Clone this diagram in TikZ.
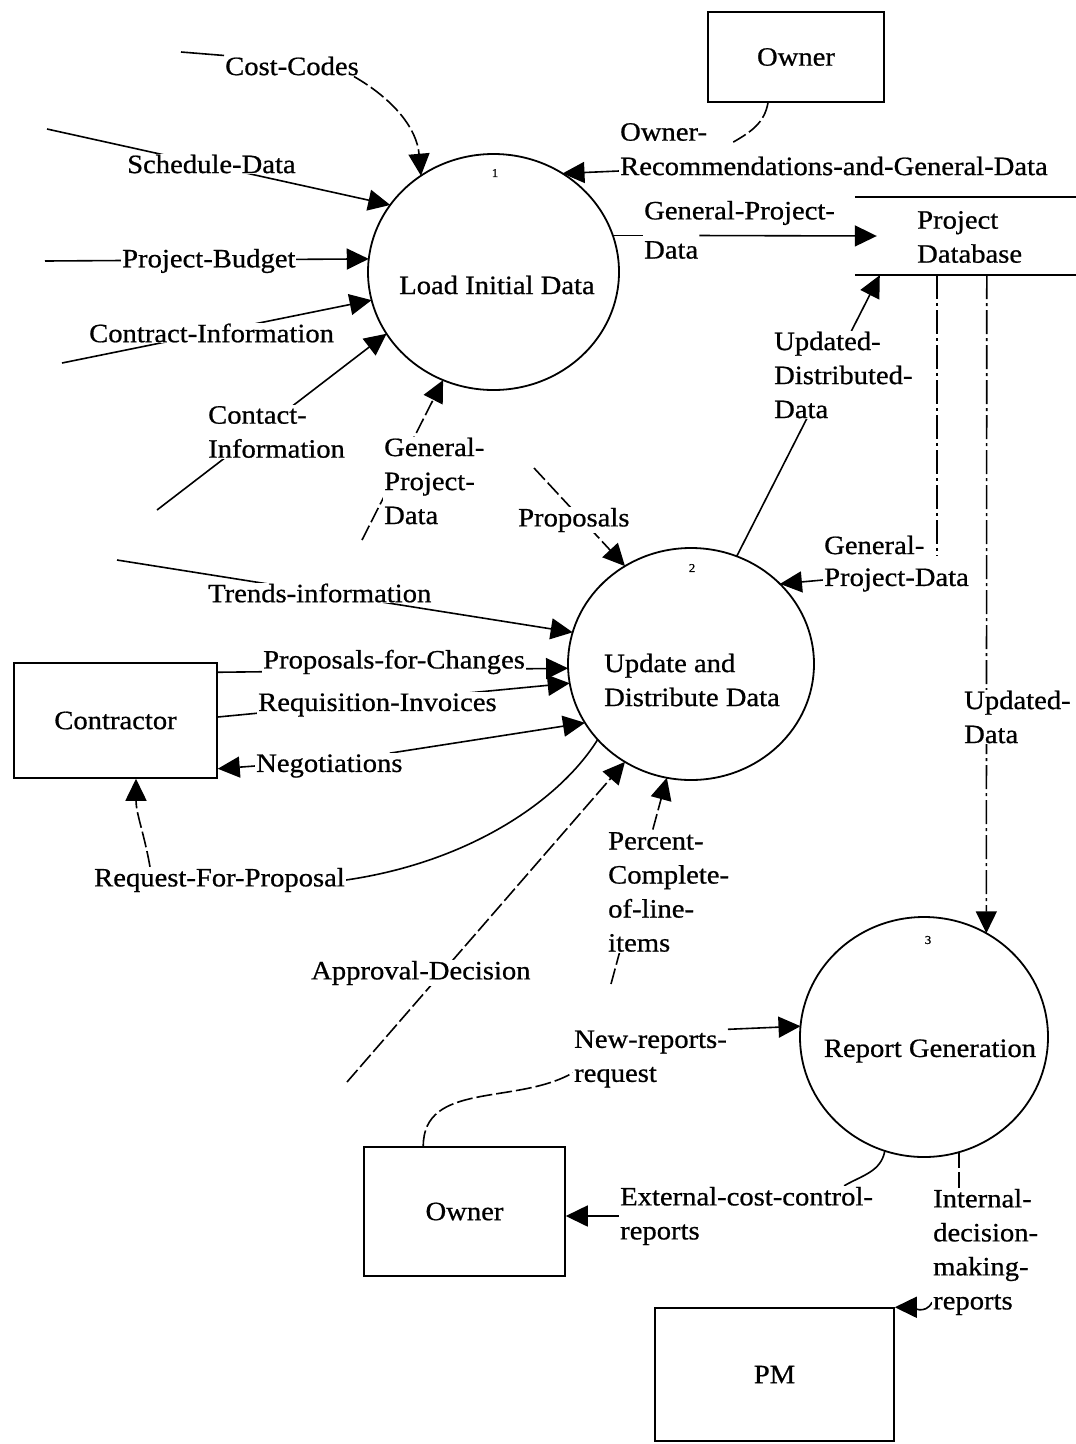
\documentclass[tikz,border=0pt]{standalone}
\usepackage{fontspec}
\setmainfont[FakeStretch=1.08,FakeBold=0.7]{Liberation Serif}
\usetikzlibrary{arrows.meta,shapes.geometric,backgrounds}
\begin{document}
\begin{tikzpicture}[x=1pt,y=-1pt,
  font=\fontsize{26.5}{34}\selectfont,
  lbl/.style={fill=white,inner sep=1pt,anchor=west,align=left},
  proc/.style={ellipse,draw,line width=1.8pt,inner sep=0pt,outer sep=0pt},
  ent/.style={rectangle,draw,line width=1.5pt,inner sep=0pt},
  num/.style={font=\fontsize{12}{14}\selectfont},
  flow/.style={line width=1.6pt},
  arr/.style={flow,-{Triangle[length=22pt,width=21pt]}},
  brk/.style={dash pattern=on 16pt off 4pt},
  dd/.style={dash pattern=on 24pt off 4pt on 3pt off 4pt}]
\useasboundingbox (0,0) rectangle (1076,1444);

% processes
\node[proc,minimum width=251pt,minimum height=236pt] (c1) at (493.5,272) {};
\node (t1) at (497,285) {Load Initial Data};
\node[num] (n1) at (495,173) {1};
\node[proc,minimum width=246pt,minimum height=232pt] (c2) at (691,664) {};
\node[anchor=west,align=left,inner sep=0pt] (t2) at (604,680) {Update and\\Distribute Data};
\node[num] (n2) at (692,568) {2};
\node[proc,minimum width=248pt,minimum height=240pt] (c3) at (924,1037) {};
\node (t3) at (930,1051) {Report Generation};
\node[num] (n3) at (928,940) {3};

% external entities
\node[ent,minimum width=176pt,minimum height=90pt] (ownerT) at (796,57) {Owner};
\node[ent,minimum width=203pt,minimum height=115pt] (contr) at (115.5,720.5) {Contractor};
\node[ent,minimum width=201pt,minimum height=129pt] (ownerB) at (464.5,1211.5) {Owner};
\node[ent,minimum width=239pt,minimum height=133pt] (pm) at (774.5,1374.5) {PM};

% data store
\node[minimum width=221pt,minimum height=78pt,inner sep=0pt] (db) at (965.5,236) {};
\node[anchor=west,align=left,inner sep=0pt] (dbt) at (917,237) {Project\\Database};
\draw[line width=1.5pt] (db.north west) -- (db.north east) (db.south west) -- (db.south east);
\coordinate (dbA) at ([xshift=82pt]db.south west);
\coordinate (dbB) at ([xshift=132pt]db.south west);

% labels
\node[lbl] (lcc) at (224,66) {Cost-Codes};
\node[lbl] (lsd) at (126,164) {Schedule-Data};
\node[lbl] (lpb) at (121,261) {Project-Budget};
\node[lbl] (lci) at (88,333) {Contract-Information};
\node[lbl] (lct) at (207,432) {Contact-\\Information};
\node[lbl] (lgp1) at (383,481) {General-\\Project-\\Data};
\node[lbl] (lpr) at (517,520) {Proposals};
\node[lbl] (ltr) at (207,593) {Trends-information};
\node[lbl] (lpfc) at (262,662) {Proposals-for-Changes};
\node[lbl] (lri) at (257,705) {Requisition-Invoices};
\node[lbl] (lneg) at (255,766) {Negotiations};
\node[lbl] (lrfp) at (93,880) {Request-For-Proposal};
\node[lbl] (lad) at (310,973) {Approval-Decision};
\node[lbl] (lpc) at (607,892) {Percent-\\Complete-\\of-line-\\items};
\node[lbl] (lorA) at (619,132) {Owner-};
\node[lbl] (lorB) at (619,166) {Recommendations-and-General-Data};
\node[lbl] (lgpA) at (643,213) {General-Project-};
\node[lbl] (lgpB) at (643,250) {Data};
\node[lbl] (lud) at (773,375) {Updated-\\Distributed-\\Data};
\node[lbl] (lgp2A) at (823,545) {General-};
\node[lbl] (lgp2B) at (823,580) {Project-Data};
\node[lbl] (lupd) at (963,717) {Updated-\\Data};
\node[lbl] (lnr) at (573,1059) {New-reports-\\request};
\node[lbl] (lext) at (619,1216) {External-cost-control-\\reports};
\node[lbl] (lint) at (932,1252) {Internal-\\decision-\\making-\\reports};

% free ends
\coordinate (fcc) at (181,52);
\coordinate (fsd) at (47,129);
\coordinate (fpb) at (45,261);
\coordinate (fci) at (62,363);
\coordinate (fct) at (157,510);
\coordinate (fgp) at (362,540);
\coordinate (fpr) at (534,468);
\coordinate (ftr) at (117,560);
\coordinate (fad) at (347,1082);
\coordinate (fpc) at (611,984);

\begin{pgfonlayer}{background}
\fill[white] (0,0) rectangle (1076,1444);
% into process 1
\draw[flow] (fcc) -- (lcc.north west);
\draw[arr,brk] ([xshift=-6pt]lcc.south east) to[out=-30,in=95] (c1.127);
\draw[arr] (fsd) -- (c1.147);
\draw[arr] (fpb) -- (c1.174);
\draw[arr] (fci) -- (c1.193);
\draw[arr] (fct) -- (c1.210);
\draw[arr,brk] (fgp) -- (c1.245);
\draw[flow,brk] ([xshift=-28pt]ownerT.south) to[out=-100,in=30] ([xshift=25pt]lorA.south east);
\draw[arr] ([yshift=-5pt]lorB.west) -- (c1.55);
\draw[flow] (c1.17) -- (lgpB.west |- c1.17);
\draw[arr] (lgpB.east |- c1.17) -- ([xshift=22pt]db.west);
% process 2
\draw[arr,brk] (fpr) -- (c2.124);
\draw[arr] (ftr) -- (c2.165);
\draw[arr] ([yshift=-10pt]contr.north east) -- (c2.182);
\draw[arr] ([yshift=3.5pt]contr.east) -- (c2.189);
\draw[arr] ([xshift=-14pt]lneg.north east) -- (c2.209);
\draw[arr] (lneg.west) -- ([yshift=10pt]contr.south east);
\draw[flow] (c2.219) .. controls (560,800) and (470,862) .. (lrfp.east);
\draw[arr,brk] ([xshift=57pt]lrfp.north west) to[out=100,in=-90] ([xshift=20.5pt]contr.south);
\draw[arr,brk] (fad) -- (c2.236);
\draw[arr,brk] (fpc) -- (c2.258);
\draw[arr] (c2.67) -- ([xshift=25pt]db.south west);
\draw[flow,dd] (dbA) -- (dbA |- lgp2A.south);
\draw[arr] (lgp2B.west) -- (c2.42);
% process 3
\draw[arr,dd] (dbB) -- (c3.59);
\draw[flow,brk] ([xshift=60pt]ownerB.north west) to[out=90,in=210] ([yshift=16pt]lnr.south west);
\draw[arr] (lnr.north east) -- (c3.175);
\draw[flow] (c3.251) to[out=-100,in=30] ([xshift=-30pt]lext.north east);
\draw[arr] (lext.west) -- (lext.west -| ownerB.east);
\draw[flow,brk] (c3.287) -- (c3.287 |- lint.north);
\draw[arr] ([yshift=14pt]lint.south west) to[out=-115,in=0] (pm.north east);
\end{pgfonlayer}
\end{tikzpicture}
\end{document}
